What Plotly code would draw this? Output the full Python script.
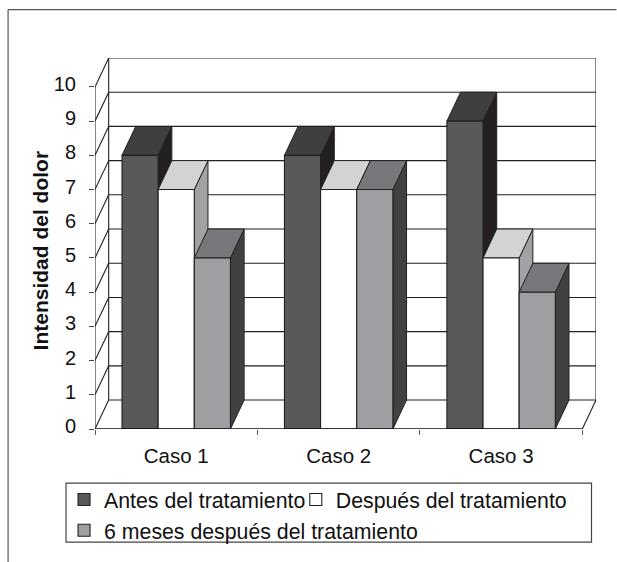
import plotly.graph_objects as go

CASES = ["Caso 1", "Caso 2", "Caso 3"]
SERIES = ["Antes del tratamiento", "Después del tratamiento", "6 meses después del tratamiento"]
ANTES = [8, 8, 9]
DESPUES = [7, 7, 5]
SEIS_MESES = [5, 7, 4]
Y_TICKS = list(range(0, 11))

FRONT = ["#58595b", "#ffffff", "#9d9fa2"]
TOP = ["#3f3f40", "#d1d3d4", "#77787b"]
SIDE = ["#231f20", "#a0a2a5", "#414042"]
INK = "#231f20"
FONT = "Liberation Sans, Arial, sans-serif"

W, H = 617, 562
ML, MR, MT, MB = 95, 20.5, 57.5, 133.2
PW, PH = W - ML - MR, H - MT - MB
DX, DY = 0.0842, 0.846          # oblique depth of the pseudo-3D box, in axis units
BAR_W = 0.2225
ymax = 10 + DY
xmax = 3 + DX

def xp(px):
    return (px - ML) / PW
def yp(px):
    return 1 - (px - MT) / PH

fig = go.Figure()

# Walls, floor and gridlines of the box
fx, fy = [], []
def seg(x0, y0, x1, y1):
    fx.extend([x0, x1, None]); fy.extend([y0, y1, None])
for t in Y_TICKS:
    seg(DX, t + DY, xmax, t + DY)
    seg(0, t, DX, t + DY)
seg(0, 0, 0, 10)
seg(DX, DY, DX, ymax)
seg(xmax, DY, xmax, ymax)
seg(3, 0, xmax, DY)
fig.add_trace(go.Scatter(x=fx, y=fy, mode="lines", line=dict(color=INK, width=1.1),
                         showlegend=False, hoverinfo="skip", cliponaxis=False, zorder=0))

centers = [i + 0.5 for i in range(len(CASES))]
for s, vals in enumerate([ANTES, DESPUES, SEIS_MESES]):
    sx, sy, tx, ty = [], [], [], []
    for c, v in zip(centers, vals):
        x0 = c + (s - 1.5) * BAR_W
        x1 = x0 + BAR_W
        sx += [x1, x1 + DX, x1 + DX, x1, x1, None]
        sy += [0, DY, v + DY, v, 0, None]
        tx += [x0, x0 + DX, x1 + DX, x1, x0, None]
        ty += [v, v + DY, v + DY, v, v, None]
    z = 1 + 2 * s
    for px, py, col in ((sx, sy, SIDE[s]), (tx, ty, TOP[s])):
        fig.add_trace(go.Scatter(x=px, y=py, mode="lines", fill="toself", fillcolor=col,
                                 line=dict(color=INK, width=1.0), showlegend=False,
                                 hoverinfo="skip", cliponaxis=False, zorder=z))
    fig.add_trace(go.Bar(x=centers, y=vals, width=BAR_W, offset=(s - 1.5) * BAR_W, name=SERIES[s],
                         marker=dict(color=FRONT[s], line=dict(color=INK, width=1.1)),
                         legend="legend2" if s == 1 else "legend",
                         cliponaxis=False, zorder=z + 1))

# Front floor edge, over the bars
fig.add_trace(go.Scatter(x=[0, 3], y=[0, 0], mode="lines", line=dict(color="#111111", width=1.6),
                         showlegend=False, hoverinfo="skip", cliponaxis=False, zorder=20))

fig.update_layout(
    width=W, height=H, autosize=False,
    margin=dict(l=ML, r=MR, t=MT, b=MB, pad=0, autoexpand=False),
    paper_bgcolor="white", plot_bgcolor="white",
    barmode="overlay",
    font=dict(family=FONT, size=20, color="#111111"),
    xaxis=dict(type="linear", range=[0, xmax], tickmode="array", tickvals=centers, ticktext=CASES,
               tickfont=dict(size=20.5),
               tickangle=0, ticks="", showgrid=False, zeroline=False, showline=False, ticklabelstandoff=12,
               minor=dict(tickmode="array", tickvals=[0, 1, 2, 3], ticks="outside", ticklen=5,
                          tickwidth=1, tickcolor="#555555", showgrid=False)),
    yaxis=dict(range=[0, ymax], tickmode="array", tickvals=Y_TICKS, ticks="outside", ticklen=5,
               tickwidth=1, tickcolor="#444444", showgrid=False, zeroline=False, showline=False,
               ticklabelstandoff=9, ticklabelshift=-3),
    legend=dict(orientation="v", x=xp(64), y=yp(479), xanchor="left", yanchor="top", borderwidth=0,
                bgcolor="rgba(0,0,0,0)", font=dict(size=21.3), traceorder="normal"),
    legend2=dict(orientation="v", x=xp(296), y=yp(479), xanchor="left", yanchor="top", borderwidth=0,
                 bgcolor="rgba(0,0,0,0)", font=dict(size=21.3)),
    annotations=[dict(text="<b>Intensidad del dolor</b>", textangle=-90, xref="paper", yref="paper",
                      x=xp(40), y=yp(250), xanchor="center", yanchor="middle", showarrow=False,
                      font=dict(size=21, color="#111111"))],
    shapes=[
        dict(type="rect", xref="paper", yref="paper", layer="below",
             x0=xp(66), x1=xp(592), y0=yp(483), y1=yp(542),
             line=dict(color="#444444", width=1.2)),
        dict(type="line", xref="paper", yref="paper", x0=xp(8), x1=xp(617), y0=yp(9), y1=yp(9),
             line=dict(color="#555555", width=1.2)),
        dict(type="line", xref="paper", yref="paper", x0=xp(8), x1=xp(8), y0=yp(9), y1=yp(562),
             line=dict(color="#555555", width=1.2)),
    ],
)

fig.write_html("out.html", config={"displayModeBar": False},
               post_script="document.body.style.margin='0';")
